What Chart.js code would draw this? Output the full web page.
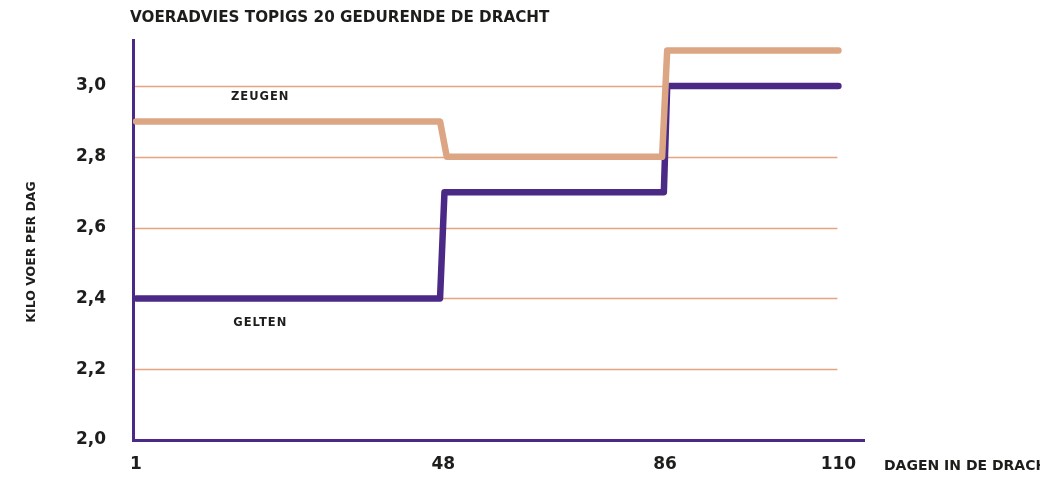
<!DOCTYPE html>
<html>
<head>
<meta charset="utf-8">
<script src="https://cdn.jsdelivr.net/npm/chart.js@4.4.1/dist/chart.umd.min.js"></script>
<style>
  html, body { margin: 0; padding: 0; background: #fff; }
  #wrap { width: 1040px; height: 479px; position: relative; }
</style>
</head>
<body>
<div id="wrap"><canvas id="c" width="1040" height="479"></canvas></div>
<script>
(function () {
  "use strict";

  // ---------- Data ----------
  const TITLE = "VOERADVIES TOPIGS 20 GEDURENDE DE DRACHT";
  const Y_TITLE = "KILO VOER PER DAG";
  const X_TITLE = "DAGEN IN DE DRACHT";
  const X_TICKS = [1, 48, 86, 110];
  const Y_TICKS = [2.0, 2.2, 2.4, 2.6, 2.8, 3.0];

  const ZEUGEN_DAYS = [1, 47.5, 48.6, 85.5, 86.3, 110];
  const ZEUGEN_KG = [2.9, 2.9, 2.8, 2.8, 3.1, 3.1];
  const GELTEN_DAYS = [1, 47.5, 48.2, 85.8, 86.3, 110];
  const GELTEN_KG = [2.4, 2.4, 2.7, 2.7, 3.0, 3.0];

  const SERIES = ["ZEUGEN", "GELTEN"];

  // ---------- Styles ----------
  const PURPLE = "#4b2986";
  const TAN = "#dca684";
  const GRID = "#e3a47f";
  const INK = "#1d1d1b";
  const BOLD = "'DejaVu Sans', 'Open Sans', sans-serif";

  // the day axis in the source is not evenly spaced, so map ticks piecewise
  const Linear = Chart.LinearScale || Chart.registry.getScale("linear");
  class PiecewiseScale extends Linear {
    _stops() {
      const o = this.options;
      const v = [this.min].concat(o.anchors, [this.max]);
      const f = [0].concat(o.anchorPos, [1]);
      return { v, f };
    }
    getPixelForValue(value) {
      if (value == null || isNaN(value)) return NaN;
      const { v, f } = this._stops();
      let i = 0;
      while (i < v.length - 2 && value > v[i + 1]) i++;
      const t = (value - v[i]) / (v[i + 1] - v[i]);
      return this.getPixelForDecimal(f[i] + t * (f[i + 1] - f[i]));
    }
    getValueForPixel(pixel) {
      const d = this.getDecimalForPixel(pixel);
      const { v, f } = this._stops();
      let i = 0;
      while (i < f.length - 2 && d > f[i + 1]) i++;
      const t = (d - f[i]) / (f[i + 1] - f[i]);
      return v[i] + t * (v[i + 1] - v[i]);
    }
  }
  PiecewiseScale.id = "piecewise";
  Chart.register(PiecewiseScale);

  const pts = (xs, ys) => xs.map((x, i) => ({ x, y: ys[i] }));

  // ---------- Extra drawing: grid stubs, titles, series names ----------
  const decor = {
    id: "decor",
    beforeDatasetsDraw(chart) {
      const { ctx, chartArea, scales } = chart;
      const xEnd = scales.x.getPixelForValue(X_TICKS[X_TICKS.length - 1]) - 1;
      ctx.save();
      ctx.strokeStyle = GRID;
      ctx.lineWidth = 1.5;
      Y_TICKS.slice(1).forEach((v) => {
        const y = Math.round(scales.y.getPixelForValue(v)) + 0.5;
        ctx.beginPath();
        ctx.moveTo(chartArea.left + 2, y);
        ctx.lineTo(xEnd, y);
        ctx.stroke();
      });
      ctx.restore();
    },
    afterDraw(chart) {
      const { ctx, chartArea, scales } = chart;
      ctx.save();
      ctx.fillStyle = INK;
      ctx.textBaseline = "middle";

      ctx.font = "bold 15.2px " + BOLD;
      ctx.textAlign = "left";
      ctx.fillText(TITLE, chartArea.left - 3, 18);

      ctx.font = "bold 14px " + BOLD;
      ctx.fillText(X_TITLE, chartArea.right + 20, 466);

      ctx.font = "bold 11.5px " + BOLD;
      ctx.textAlign = "center";
      if ("letterSpacing" in ctx) ctx.letterSpacing = "1px";
      const lx = scales.x.getPixelForValue(20);
      ctx.fillText(SERIES[0], lx, scales.y.getPixelForValue(2.97));
      ctx.fillText(SERIES[1], lx, scales.y.getPixelForValue(2.33));
      if ("letterSpacing" in ctx) ctx.letterSpacing = "0px";

      ctx.font = "bold 12.5px " + BOLD;
      ctx.translate(32, 252);
      ctx.rotate(-Math.PI / 2);
      ctx.fillText(Y_TITLE, 0, 0);
      ctx.restore();
    },
  };

  new Chart(document.getElementById("c").getContext("2d"), {
    type: "line",
    data: {
      datasets: [
        {
          label: SERIES[0],
          data: pts(ZEUGEN_DAYS, ZEUGEN_KG),
          borderColor: TAN,
          borderWidth: 6.5,
          borderCapStyle: "round",
          borderJoinStyle: "round",
          pointRadius: 0,
          tension: 0,
          fill: false,
        },
        {
          label: SERIES[1],
          data: pts(GELTEN_DAYS, GELTEN_KG),
          borderColor: PURPLE,
          borderWidth: 6.5,
          borderCapStyle: "round",
          borderJoinStyle: "round",
          pointRadius: 0,
          tension: 0,
          fill: false,
        },
      ],
    },
    options: {
      responsive: false,
      animation: false,
      devicePixelRatio: 1,
      layout: { padding: { left: 0, right: 176, top: 40, bottom: 0 } },
      plugins: {
        legend: { display: false },
        tooltip: { enabled: false },
      },
      scales: {
        x: {
          type: "piecewise",
          min: 0.54,
          max: 113.3,
          anchors: X_TICKS,
          anchorPos: [0.0041, 0.4245, 0.7278, 0.965],
          afterBuildTicks: (s) => { s.ticks = X_TICKS.map((v) => ({ value: v })); },
          afterFit: (s) => { s.height = 39; },
          grid: { display: false, drawTicks: false },
          border: { display: true, color: PURPLE, width: 3 },
          ticks: {
            padding: 14,
            color: INK,
            autoSkip: false,
            maxRotation: 0,
            font: { family: BOLD, size: 17, weight: "bold" },
            callback: (v) => String(v),
          },
        },
        y: {
          type: "linear",
          min: 2.0,
          max: 3.13,
          afterBuildTicks: (s) => { s.ticks = Y_TICKS.map((v) => ({ value: v })); },
          afterFit: (s) => { s.width = 133; },
          grid: { display: false, drawTicks: false },
          border: { display: true, color: PURPLE, width: 3 },
          ticks: {
            padding: 27,
            color: INK,
            font: { family: BOLD, size: 17, weight: "bold" },
            callback: (v) => Number(v).toFixed(1).replace(".", ","),
          },
        },
      },
    },
    plugins: [decor],
  });
})();
</script>
</body>
</html>
